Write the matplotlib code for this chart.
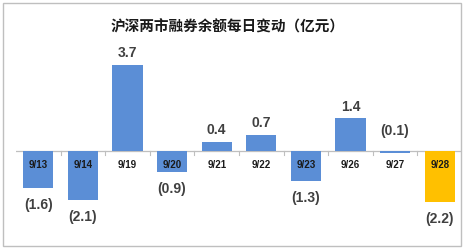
import numpy as np
import matplotlib.pyplot as plt
from matplotlib.patches import Rectangle

dates = ['9/13', '9/14', '9/19', '9/20', '9/21', '9/22', '9/23', '9/26', '9/27', '9/28']
changes = [-1.6, -2.1, 3.7, -0.9, 0.4, 0.7, -1.3, 1.4, -0.1, -2.2]
title = '沪深两市融券余额每日变动（亿元）'

W, H = 464, 249
fig = plt.figure(figsize=(W / 100, H / 100), dpi=100)
fig.patch.set_facecolor('white')
fig.add_artist(Rectangle((3 / W, 3 / H), 458 / W, 243 / H, transform=fig.transFigure,
                         fill=False, edgecolor='#bfbfbf', linewidth=1.0))

# axes in pixel terms: x from 16 to 462, y from 40 to 240
ax = fig.add_axes([16 / W, 1 - 240 / H, 446 / W, 200 / H])
px_per_unit = 23.3
ax.set_ylim(-(240 - 151) / px_per_unit, (151 - 40) / px_per_unit)
ax.set_xlim(-0.5, len(dates) - 0.5)

x = np.arange(len(dates))
colors = ['#5b8ed6'] * (len(dates) - 1) + ['#ffc000']
ax.bar(x, changes, width=0.68, color=colors, zorder=2)

ax.axhline(0, color='#bfbfbf', linewidth=0.9, zorder=1)
for b in np.arange(0.5, len(dates) - 0.5, 1):
    ax.plot([b, b], [0, -0.17], color='#bfbfbf', linewidth=0.8, zorder=1)

fam = ['Liberation Sans', 'Noto Sans CJK SC']
for xi, d, v in zip(x, dates, changes):
    ax.text(xi, -0.62, d, ha='center', va='center', fontsize=7, fontweight='bold',
            family=fam, color='#1a1a1a', zorder=3)
    if v >= 0:
        lab, anchor, dy = f'{v:.1f}', v, 8.5
    elif v > -0.3:
        # tiny negative bar: label sits above the zero line
        lab, anchor, dy = f'({-v:.1f})', 0, 14.5
    else:
        lab, anchor, dy = f'({-v:.1f})', v, -12
    ax.annotate(lab, (xi, anchor), xytext=(0, dy), textcoords='offset points',
                ha='center', va='center', fontsize=10, fontweight='bold',
                family=fam, color='#404040')

ax.axis('off')

fig.text(228 / W, 1 - 27 / H, title, ha='center', va='center', fontsize=10.5,
         fontweight='bold', family=['Noto Sans CJK SC', 'DejaVu Sans'], color='#1a1a1a')

fig.savefig('out.png', dpi=100)
